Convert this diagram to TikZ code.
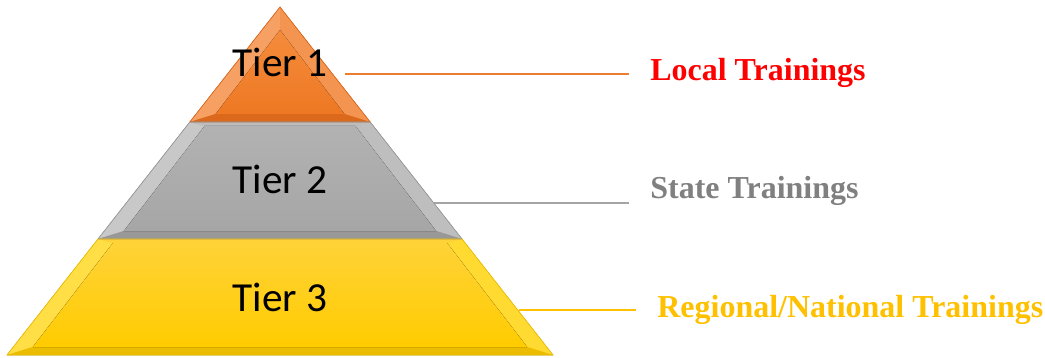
\documentclass[tikz,border=0pt]{standalone}
\usepackage{fontspec}
\setmainfont{Liberation Serif}
\newfontfamily\tierfont{Carlito}
\definecolor{orangetop}{RGB}{244,140,60}
\definecolor{orangebot}{RGB}{238,120,35}
\definecolor{orangelight}{RGB}{246,160,100}
\definecolor{orangeside}{RGB}{243,148,80}
\definecolor{orangedark}{RGB}{220,104,28}
\definecolor{graytop}{RGB}{178,178,178}
\definecolor{graybot}{RGB}{166,166,166}
\definecolor{graylight}{RGB}{200,200,200}
\definecolor{grayside}{RGB}{190,190,190}
\definecolor{graydark}{RGB}{152,152,152}
\definecolor{goldtop}{RGB}{255,210,55}
\definecolor{goldbot}{RGB}{255,204,0}
\definecolor{goldlight}{RGB}{255,222,70}
\definecolor{goldside}{RGB}{255,218,48}
\definecolor{golddark}{RGB}{236,188,0}
\definecolor{lineorange}{RGB}{237,125,49}
\definecolor{linegray}{RGB}{165,165,165}
\definecolor{linegold}{RGB}{255,192,0}
\definecolor{textgray}{RGB}{128,128,128}
\begin{document}
\begin{tikzpicture}[x=0.02cm,y=-0.02cm,
  tierlabel/.style={font=\tierfont\fontsize{23.5}{26}\selectfont,anchor=base,inner sep=0pt},
  trainlabel/.style={font=\bfseries\fontsize{18.2}{20}\selectfont,anchor=base west,inner sep=0pt},
  leader/.style={line width=1.1pt,shorten >=0.42cm}]
  \useasboundingbox (0,0) rectangle (1045,358);
  \fill[top color=orangetop,bottom color=orangebot] (280,7) -- (370.2,122) -- (189.8,122) -- cycle;
  \fill[orangelight] (280,7) -- (280,30) -- (215.6,114) -- (189.8,122) -- cycle;
  \fill[orangeside] (280,7) -- (370.2,122) -- (344.4,114) -- (280,30) -- cycle;
  \fill[orangedark] (189.8,122) -- (215.6,114) -- (344.4,114) -- (370.2,122) -- cycle;
  \fill[top color=orangetop,bottom color=orangebot] (280,30) -- (344.4,114) -- (215.6,114) -- cycle;
  \begin{scope}
    \fill[top color=graytop,bottom color=graybot] (189.8,122) -- (370.2,122) -- (462,239) -- (98,239) -- cycle;
    \fill[graylight] (189.8,122) -- (204.6,126) -- (123.8,231) -- (98,239) -- cycle;
    \fill[grayside] (370.2,122) -- (462,239) -- (436.2,231) -- (355.4,126) -- cycle;
    \fill[graydark] (98,239) -- (123.8,231) -- (436.2,231) -- (462,239) -- cycle;
    \fill[graytop!85!white] (189.8,122) -- (370.2,122) -- (355.4,126) -- (204.6,126) -- cycle;
    \fill[top color=graytop,bottom color=graybot] (204.6,126) -- (355.4,126) -- (436.2,231) -- (123.8,231) -- cycle;
  \end{scope}
  \begin{scope}
    \fill[top color=goldtop,bottom color=goldbot] (98,239) -- (462,239) -- (553,355) -- (7,355) -- cycle;
    \fill[goldlight] (98,239) -- (112.9,243) -- (32.8,347) -- (7,355) -- cycle;
    \fill[goldside] (462,239) -- (553,355) -- (527.2,347) -- (447.1,243) -- cycle;
    \fill[golddark] (7,355) -- (32.8,347) -- (527.2,347) -- (553,355) -- cycle;
    \fill[goldtop] (98,239) -- (462,239) -- (447.1,243) -- (112.9,243) -- cycle;
    \fill[top color=goldtop,bottom color=goldbot] (112.9,243) -- (447.1,243) -- (527.2,347) -- (32.8,347) -- cycle;
  \end{scope}
  \draw[orangedark,line width=0.4pt] (280,7) -- (370.2,122) -- (189.8,122) -- cycle;
  \draw[graydark,line width=0.4pt] (189.8,122) -- (370.2,122) -- (462,239) -- (98,239) -- cycle;
  \draw[golddark,line width=0.4pt] (98,239) -- (462,239) -- (553,355) -- (7,355) -- cycle;
  \node[tierlabel] (tierone) at (280,77) {Tier 1};
  \node[tierlabel] (tiertwo) at (280,194) {Tier 2};
  \node[tierlabel] (tierthree) at (280,311) {Tier 3};
  \node[trainlabel,text=red] (local) at (650,81) {Local Trainings};
  \node[trainlabel,text=textgray] (state) at (650,198) {State Trainings};
  \node[trainlabel,text=linegold] (regional) at (657,317) {Regional/National Trainings};
  \coordinate (startone) at (345,74);
  \coordinate (starttwo) at (433,203);
  \coordinate (startthree) at (519,310);
  \draw[leader,lineorange] (startone) -- (startone -| local.west);
  \draw[leader,linegray] (starttwo) -- (starttwo -| state.west);
  \draw[leader,linegold] (startthree) -- (startthree -| regional.west);
\end{tikzpicture}
\end{document}
